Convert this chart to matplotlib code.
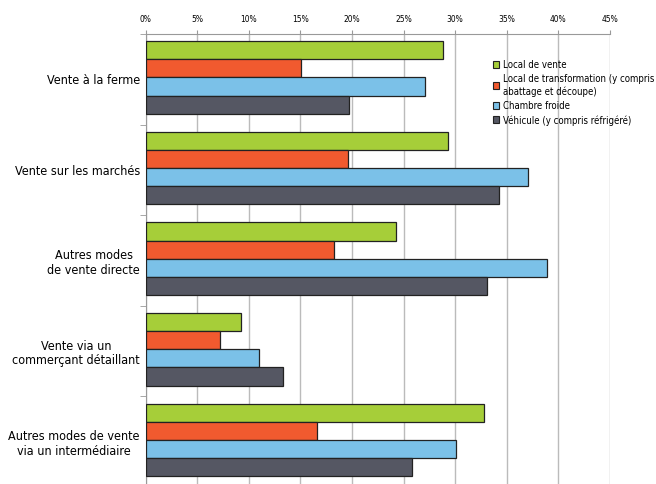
import matplotlib
matplotlib.use("Agg")
import matplotlib.pyplot as plt
import numpy as np
from matplotlib.patches import Patch
from matplotlib.ticker import FixedLocator, PercentFormatter

categories = ["Vente à la ferme", "Vente sur les marchés", "Autres modes\nde vente directe",
              "Vente via un\ncommerçant détaillant", "Autres modes de vente\nvia un intermédiaire"]
series_names = ["Local de vente", "Local de transformation (y compris\nabattage et découpe)",
                "Chambre froide", "Véhicule (y compris réfrigéré)"]
local_vente = [28.8, 29.3, 24.3, 9.3, 32.8]
local_transfo = [15.1, 19.6, 18.3, 7.2, 16.6]
chambre_froide = [27.1, 37.1, 38.9, 11.0, 30.1]
vehicule = [19.7, 34.2, 33.1, 13.3, 25.8]
xticks = [0, 5, 10, 15, 20, 25, 30, 35, 40, 45]

colors = ["#A6CE39", "#F15A2F", "#7BC1E8", "#555763"]
series = [local_vente, local_transfo, chambre_froide, vehicule]

fam = ['Liberation Sans Narrow', 'DejaVu Sans', 'Liberation Sans']
plt.rcParams['font.family'] = fam
plt.rcParams['font.stretch'] = 'condensed'

fig = plt.figure(figsize=(6.56, 4.84), dpi=100)
top_px, grp_px = 34.0, 90.6
n = len(categories)
ax = fig.add_axes([145.5/656, (484 - top_px - n*grp_px)/484, 464.5/656, n*grp_px/484])

bh = 0.2
y0 = np.arange(n)
for i, (vals, c, name) in enumerate(zip(series, colors, series_names)):
    ax.barh(y0 - 0.32 + i*bh, vals, height=bh, color=c, edgecolor="#222222",
            linewidth=0.9, label=name, zorder=3)

ax.set_ylim(n - 0.5, -0.5)
ax.set_xlim(0, 45)
ax.xaxis.set_major_locator(FixedLocator(xticks))
ax.xaxis.set_major_formatter(PercentFormatter(decimals=0))
ax.xaxis.tick_top()
ax.tick_params(axis='x', length=3, color="#999999", labelsize=6, pad=4, direction='out')
ax.grid(axis='x', color="#BBBBBB", linewidth=1, zorder=0)
ax.set_yticks(y0)
ax.set_yticklabels(categories, fontsize=10.5, multialignment='center', linespacing=1.15)
ax.tick_params(axis='y', length=0, pad=4)
ax.yaxis.set_minor_locator(FixedLocator(np.arange(-0.5, n, 1.0)))
ax.tick_params(axis='y', which='minor', length=4, color="#999999")
for s in ['right', 'bottom']:
    ax.spines[s].set_visible(False)
ax.spines['left'].set_color("#999999")
ax.spines['top'].set_color("#999999")

handles = [Patch(facecolor=c, edgecolor="#222222", linewidth=0.8) for c in colors]
leg = fig.legend(handles, series_names, loc='upper left', bbox_to_anchor=(489/656, 1-56/484),
                 frameon=False, handlelength=0.5, handleheight=0.6,
                 handletextpad=0.35, labelspacing=0.35, borderaxespad=0,
                 prop={'family': fam, 'size': 8})
for t in leg.get_texts():
    t.set_linespacing(1.3)

# fit category label size so the widest label spans about 132 px like the reference
fig.canvas.draw()
r = fig.canvas.get_renderer()
labs = ax.get_yticklabels()
w = max(t.get_window_extent(r).width for t in labs)
fs = 10.5 * 132.0 / w
fs = min(fs, 11.0)
for t in labs:
    t.set_fontsize(fs)

# fit legend: widest line ~152 px
fig.canvas.draw()
lw = max(t.get_window_extent(r).width for t in leg.get_texts())
lfs = 8 * 152.0 / lw
for t in leg.get_texts():
    t.set_fontsize(min(lfs, 8.5))

fig.savefig("out.png", dpi=100)
